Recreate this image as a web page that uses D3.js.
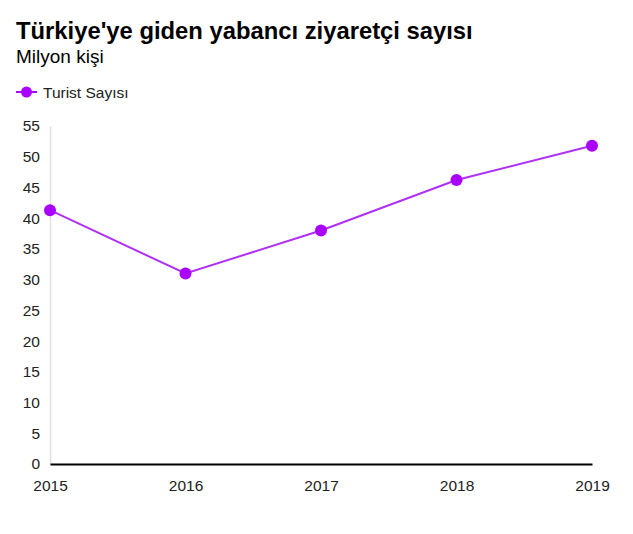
<!DOCTYPE html>
<html>
<head>
<meta charset="utf-8">
<script src="https://cdn.jsdelivr.net/npm/d3@7"></script>
<style>
  html, body { margin: 0; padding: 0; background: #fff; }
  svg { display: block; font-family: "Liberation Sans", Arial, sans-serif; }
</style>
</head>
<body>
<svg id="chart" width="633" height="534"></svg>
<script>
const years = ["2015", "2016", "2017", "2018", "2019"];
const visitors = [41.3, 31.0, 38.0, 46.2, 51.8];
const yTicks = [0, 5, 10, 15, 20, 25, 30, 35, 40, 45, 50, 55];
const seriesName = "Turist Sayısı";
const titleText = "Türkiye'ye giden yabancı ziyaretçi sayısı";
const subtitleText = "Milyon kişi";

const color = "#aa00ff";
const svg = d3.select("#chart");

svg.append("text").attr("x", 16).attr("y", 39)
  .attr("font-size", 23.8).attr("font-weight", "bold").attr("fill", "#000")
  .text(titleText);
svg.append("text").attr("x", 16).attr("y", 63)
  .attr("font-size", 19).attr("fill", "#000")
  .text(subtitleText);

// legend
const lg = svg.append("g").attr("transform", "translate(16,92)");
lg.append("line").attr("x1", 0).attr("x2", 21).attr("y1", 0).attr("y2", 0)
  .attr("stroke", color).attr("stroke-width", 2);
lg.append("circle").attr("cx", 10.5).attr("cy", 0).attr("r", 5.5).attr("fill", color);
lg.append("text").attr("x", 27).attr("y", 5.5).attr("font-size", 15.5).attr("fill", "#222")
  .text(seriesName);

const x = d3.scalePoint().domain(years).range([50, 592]);
const y = d3.scaleLinear().domain([0, 55]).range([464, 126]);

// y axis
const yAxis = d3.axisLeft(y).tickValues(yTicks).tickSize(0).tickPadding(10);
const yg = svg.append("g").attr("transform", "translate(50,0)").call(yAxis);
yg.select(".domain").attr("stroke", "#e0e0e0").attr("stroke-width", 1.5);
yg.selectAll("text").attr("font-size", 15.5).attr("fill", "#222")
  .attr("font-family", "Liberation Sans, Arial, sans-serif");

// x axis
const xAxis = d3.axisBottom(x).tickSize(0).tickPadding(16);
const xg = svg.append("g").attr("transform", `translate(0,${y(0)})`).call(xAxis);
xg.select(".domain").attr("stroke", "#000").attr("stroke-width", 2);
xg.selectAll("text").attr("font-size", 15.5).attr("fill", "#222")
  .attr("font-family", "Liberation Sans, Arial, sans-serif");

const data = years.map((yr, i) => ({ yr, v: visitors[i] }));
const line = d3.line().x(d => x(d.yr)).y(d => y(d.v));
svg.append("path").datum(data).attr("d", line)
  .attr("fill", "none").attr("stroke", "#b030f5").attr("stroke-width", 2);
svg.selectAll("circle.pt").data(data).enter().append("circle")
  .attr("class", "pt").attr("cx", d => x(d.yr)).attr("cy", d => y(d.v))
  .attr("r", 6).attr("fill", color);
</script>
</body>
</html>
